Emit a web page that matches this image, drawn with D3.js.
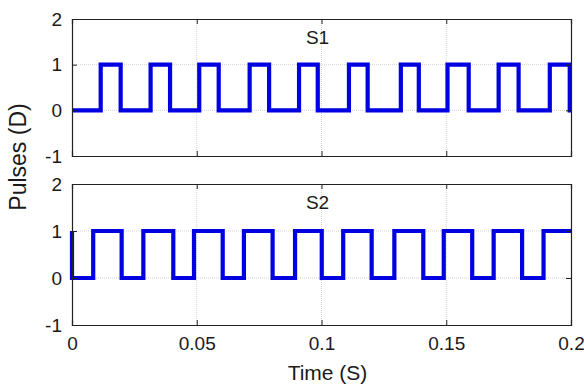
<!DOCTYPE html>
<html>
<head>
<meta charset="utf-8">
<script src="https://cdn.jsdelivr.net/npm/d3@7"></script>
<style>
  html, body { margin: 0; padding: 0; background: #fff; }
  svg { display: block; }
  text { font-family: "Liberation Sans", Arial, sans-serif; fill: #1a1a1a; }
</style>
</head>
<body>
<script>
// ---- data ----
const xTicks = [0, 0.05, 0.1, 0.15, 0.2];
const xTickLabels = ["0", "0.05", "0.1", "0.15", "0.2"];
const yTicks = [-1, 0, 1, 2];
const yTickLabels = ["-1", "0", "1", "2"];
const panelTitles = ["S1", "S2"];

// S1: starts at 0
const s1Start = 0;
const s1Rise = [0.0115, 0.0315, 0.0510, 0.0712, 0.0910, 0.1110, 0.1318, 0.1505, 0.1710, 0.1915];
const s1Fall = [0.0195, 0.0393, 0.0588, 0.0790, 0.0985, 0.1185, 0.1390, 0.1590, 0.1790, 0.1995];

// S2: starts at 1 and drops immediately at t = 0
const s2Start = 1;
const s2Fall = [0.0, 0.0199, 0.0406, 0.0604, 0.0804, 0.1001, 0.1201, 0.1408, 0.1604, 0.1804];
const s2Rise = [0.0085, 0.0286, 0.0489, 0.0689, 0.0894, 0.1087, 0.1292, 0.1490, 0.1690, 0.1890];

const tEnd = 0.2;

// ---- build step series ----
function buildSteps(start, rises, falls) {
  const ev = [];
  rises.forEach(t => ev.push({t, v: 1}));
  falls.forEach(t => ev.push({t, v: 0}));
  ev.sort((a, b) => a.t - b.t);
  const pts = [{t: 0, v: start}];
  ev.forEach(e => pts.push({t: e.t, v: e.v}));
  pts.push({t: tEnd, v: pts[pts.length - 1].v});
  return pts;
}
const series = [
  buildSteps(s1Start, s1Rise, s1Fall),
  buildSteps(s2Start, s2Rise, s2Fall)
];

// ---- layout ----
const W = 584, H = 385;
const left = 72, right = 571;
const panels = [
  {top: 19, bottom: 156},
  {top: 184, bottom: 325}
];

const svg = d3.select("body").append("svg").attr("width", W).attr("height", H);

const x = d3.scaleLinear().domain([0, 0.2]).range([left, right]);

panels.forEach((p, i) => {
  const y = d3.scaleLinear().domain([-1, 2]).range([p.bottom, p.top]);
  const g = svg.append("g");

  // grid (light gray)
  g.selectAll("line.gx").data(xTicks.slice(1, -1)).join("line")
    .attr("x1", d => x(d)).attr("x2", d => x(d))
    .attr("y1", p.top).attr("y2", p.bottom)
    .attr("stroke", "#d4d4d4").attr("stroke-width", 1).attr("stroke-dasharray", "1,1");
  g.selectAll("line.gy").data(yTicks.slice(1, -1)).join("line")
    .attr("x1", left).attr("x2", right)
    .attr("y1", d => y(d)).attr("y2", d => y(d))
    .attr("stroke", "#d4d4d4").attr("stroke-width", 1).attr("stroke-dasharray", "1,1");

  // signal
  const line = d3.line().x(d => x(d.t)).y(d => y(d.v)).curve(d3.curveStepAfter);
  g.append("path").datum(series[i])
    .attr("d", line)
    .attr("fill", "none")
    .attr("stroke", "#0000e0")
    .attr("stroke-width", 4.2)
    .attr("stroke-linejoin", "miter");

  // axes (ticks inward like MATLAB)
  const axB = d3.axisBottom(x).tickValues(xTicks).tickSize(-5).tickPadding(12)
    .tickFormat((d, k) => i === 1 ? xTickLabels[k] : "");
  const axT = d3.axisTop(x).tickValues(xTicks).tickSize(-5).tickFormat("");
  const axL = d3.axisLeft(y).tickValues(yTicks).tickSize(-5).tickPadding(10)
    .tickFormat((d, k) => yTickLabels[k]);
  const axR = d3.axisRight(y).tickValues(yTicks).tickSize(-5).tickFormat("");

  [[axB, `translate(0,${p.bottom})`], [axT, `translate(0,${p.top})`],
   [axL, `translate(${left},0)`], [axR, `translate(${right},0)`]].forEach(([ax, tr]) => {
    const a = g.append("g").attr("transform", tr).call(ax);
    a.selectAll("path.domain").attr("stroke", "#222").attr("stroke-width", 1.2);
    a.selectAll(".tick line").attr("stroke", "#222");
    a.selectAll(".tick text").attr("font-size", 19).attr("font-family", "Liberation Sans, Arial, sans-serif").attr("fill", "#1a1a1a");
  });

  // panel title
  g.append("text")
    .attr("x", x(0.1) - 4)
    .attr("y", p.top + 25)
    .attr("text-anchor", "middle")
    .attr("font-size", 19)
    .text(panelTitles[i]);
});

// axis labels
svg.append("text")
  .attr("x", x(0.1) + 6).attr("y", 380)
  .attr("text-anchor", "middle").attr("font-size", 21)
  .text("Time (S)");

svg.append("text")
  .attr("transform", `translate(26,157) rotate(-90)`)
  .attr("text-anchor", "middle").attr("font-size", 23)
  .text("Pulses (D)");
</script>
</body>
</html>
